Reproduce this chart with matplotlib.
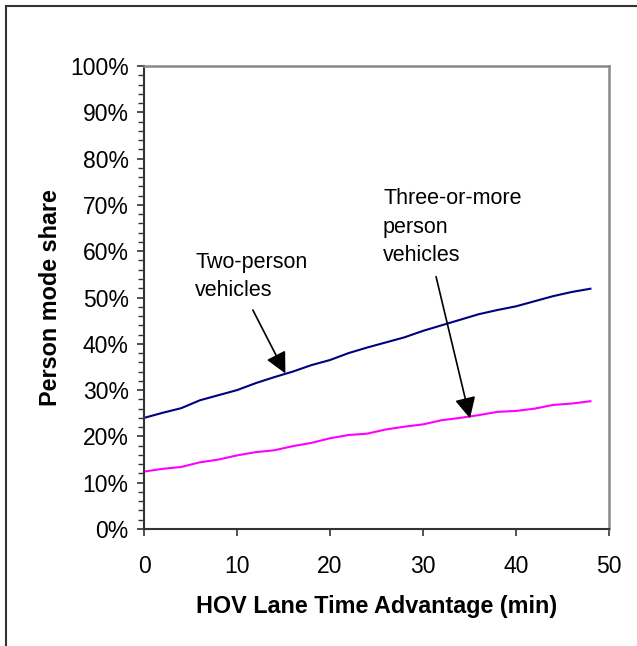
import matplotlib.pyplot as plt
from matplotlib.ticker import MultipleLocator, FuncFormatter
from matplotlib.patches import Rectangle

plt.rcParams['font.family'] = ['Liberation Sans', 'DejaVu Sans']

# HOV lane time advantage (min)
minutes = [0, 2, 4, 6, 8, 10, 12, 14, 16, 18, 20, 22, 24,
           26, 28, 30, 32, 34, 36, 38, 40, 42, 44, 46, 48]

# person mode share (%)
two_person = [24.0, 25.1, 26.1, 27.8, 28.9, 30.0, 31.5, 32.8, 34.0, 35.4,
              36.5, 38.0, 39.2, 40.3, 41.4, 42.8, 44.0, 45.2, 46.4, 47.3,
              48.1, 49.2, 50.3, 51.2, 51.9]
three_plus = [12.4, 13.0, 13.4, 14.4, 15.0, 15.9, 16.6, 17.0, 17.9, 18.6,
              19.6, 20.3, 20.6, 21.5, 22.1, 22.6, 23.5, 24.0, 24.6, 25.3,
              25.5, 26.0, 26.8, 27.1, 27.6]

fig = plt.figure(figsize=(6.37, 6.46), dpi=100)
ax = fig.add_axes([0.2261, 0.1811, 0.730, 0.7167])

ax.plot(minutes, two_person, color='#000080', lw=1.5)
ax.plot(minutes, three_plus, color='#ff00ff', lw=1.5)

ax.set_xlim(0, 50)
ax.set_ylim(0, 100)
ax.xaxis.set_major_locator(MultipleLocator(10))
ax.yaxis.set_major_locator(MultipleLocator(10))
ax.yaxis.set_minor_locator(MultipleLocator(2))
ax.yaxis.set_major_formatter(FuncFormatter(lambda v, p: '%d%%' % v))

ax.tick_params(axis='both', which='major', direction='out', length=5, width=1.2,
               labelsize=16.5, colors='#333333', labelcolor='black')
ax.tick_params(axis='y', which='minor', direction='out', length=4, width=1.0,
               colors='#333333')
ax.tick_params(axis='x', pad=14)
ax.tick_params(axis='y', pad=6)

for side in ['left', 'bottom']:
    ax.spines[side].set_color('#333333')
    ax.spines[side].set_linewidth(1.5)
for side in ['top', 'right']:
    ax.spines[side].set_color('#888888')
    ax.spines[side].set_linewidth(1.8)

ax.set_xlabel('HOV Lane Time Advantage (min)', fontsize=16.8, fontweight='bold', labelpad=12)
ax.set_ylabel('Person mode share', fontsize=16.8, fontweight='bold', labelpad=6)

arrow = dict(arrowstyle='-|>', color='black', lw=1.2, mutation_scale=32,
             shrinkA=0, shrinkB=0)
ax.annotate('', xy=(15.2, 33.6), xytext=(11.7, 47.3), arrowprops=arrow)
ax.annotate('', xy=(35.05, 23.9), xytext=(31.4, 54.5), arrowprops=arrow)
ax.text(5.5, 54.6, 'Two-person\nvehicles', fontsize=15.5, va='center', ha='left',
        linespacing=1.45)
ax.text(25.7, 65.2, 'Three-or-more\nperson\nvehicles', fontsize=15.5, va='center',
        ha='left', linespacing=1.45)

# outer chart-area border (cut off at right and bottom)
fig.patches.append(Rectangle((6 / 637, -0.05), 1.2, 1.05 - 6 / 646,
                             transform=fig.transFigure, fill=False,
                             edgecolor='#333333', lw=1.5))

fig.savefig('out.png', dpi=100)
